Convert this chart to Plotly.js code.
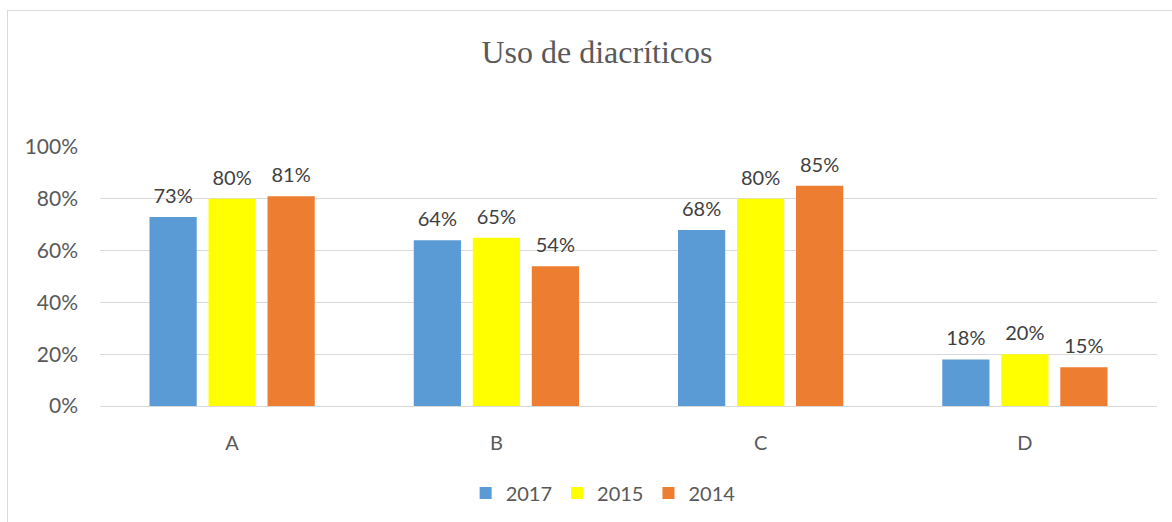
<!DOCTYPE html>
<html>
<head>
<meta charset="utf-8">
<script src="https://cdn.plot.ly/plotly-3.0.1.min.js"></script>
<style>
html,body{margin:0;padding:0;background:#fff;width:1172px;height:522px;overflow:hidden;}
#frame{position:absolute;left:7px;top:10px;width:1165px;height:512px;border-left:1px solid #d9d9d9;border-top:1px solid #d9d9d9;box-sizing:border-box;}
#chart{position:absolute;left:0;top:0;width:1164px;height:511px;}
</style>
</head>
<body>
<div id="frame"><div id="chart"></div></div>
<script>
const categories = ["A", "B", "C", "D"];
const seriesNames = ["2017", "2015", "2014"];
const values2017 = [73, 64, 68, 18];
const values2015 = [80, 65, 80, 20];
const values2014 = [81, 54, 85, 15];
const yTickValues = [0, 20, 40, 60, 80, 100];
const colors = ["#5B9BD5", "#FFFF00", "#ED7D31"];

const FONT = "Lato, Carlito, sans-serif";
const allValues = [values2017, values2015, values2014];

const barTraces = allValues.map((vals, i) => ({
  type: "bar",
  name: seriesNames[i],
  x: categories,
  y: vals,
  offsetgroup: seriesNames[i],
  marker: {color: colors[i]},
  hoverinfo: "x+y+name"
}));

const labelTraces = allValues.map((vals, i) => ({
  type: "scatter",
  mode: "markers+text",
  x: categories,
  y: vals,
  offsetgroup: seriesNames[i],
  marker: {size: 13, opacity: 0, color: colors[i]},
  text: vals.map(v => v + "%"),
  textposition: "top center",
  textfont: {family: FONT, size: 20, color: "#404040"},
  cliponaxis: false,
  showlegend: false,
  hoverinfo: "skip"
}));

const layout = {
  width: 1164,
  height: 511,
  margin: {l: 92, r: 15, t: 136, b: 116, autoexpand: false},
  paper_bgcolor: "rgba(0,0,0,0)",
  plot_bgcolor: "rgba(0,0,0,0)",
  font: {family: FONT, size: 20, color: "#595959"},
  title: {
    text: "Uso de diacríticos",
    font: {family: "Liberation Serif, Times New Roman, serif", size: 32, color: "#595959"},
    x: 0.506, xanchor: "center",
    y: 1 - 41 / 511, yanchor: "middle", yref: "container"
  },
  barmode: "group",
  bargap: 0.33,
  bargroupgap: 0.2,
  scattermode: "group",
  scattergap: 0.33,
  xaxis: {
    type: "category",
    showgrid: false,
    showline: false,
    zeroline: false,
    ticks: "",
    ticklabelstandoff: 23,
    tickfont: {size: 20, color: "#595959"}
  },
  yaxis: {
    range: [0, 100],
    tickvals: yTickValues,
    ticktext: yTickValues.map(v => v + "%"),
    showgrid: true,
    gridcolor: "#d9d9d9",
    gridwidth: 1,
    zeroline: true,
    zerolinecolor: "#d9d9d9",
    zerolinewidth: 1,
    showline: false,
    ticks: "",
    ticklabelstandoff: 21,
    tickfont: {size: 21, color: "#595959"}
  },
  showlegend: true,
  legend: {
    orientation: "h",
    x: 0.476, xanchor: "center",
    yref: "container",
    y: 1 - 482 / 511, yanchor: "middle",
    font: {size: 20, color: "#595959"},
    itemwidth: 30,
    traceorder: "normal"
  }
};

Plotly.newPlot("chart", barTraces.concat(labelTraces), layout, {displayModeBar: false});
</script>
</body>
</html>
